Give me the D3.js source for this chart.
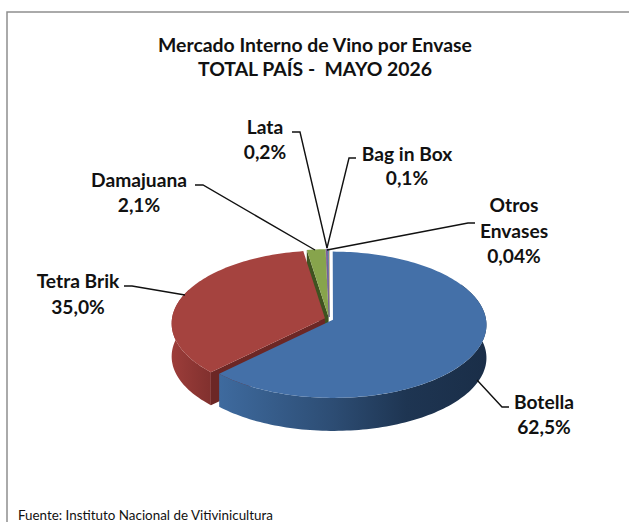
<!DOCTYPE html>
<html>
<head>
<meta charset="utf-8">
<script src="https://cdn.jsdelivr.net/npm/d3@7"></script>
<style>
  html, body { margin: 0; padding: 0; background: #fff; overflow: hidden; }
  svg { display: block; }
  text { font-family: Lato, "Open Sans", sans-serif; fill: #111; white-space: pre; }
</style>
</head>
<body>
<svg width="629" height="522"></svg>
<script>
// data, clockwise from 12 o'clock
var categories = ["Botella", "Tetra Brik", "Damajuana", "Lata", "Bag in Box", "Otros Envases"];
var values = [62.5, 35.0, 2.1, 0.2, 0.1, 0.04];
var valueLabels = ["62,5%", "35,0%", "2,1%", "0,2%", "0,1%", "0,04%"];
var titleLines = ["Mercado Interno de Vino por Envase", "TOTAL PAÍS -  MAYO 2026"];
var source = "Fuente: Instituto Nacional de Vitivinicultura";

var svg = d3.select("svg");

var colors = d3.scaleOrdinal()
    .domain(categories)
    .range(["#4470a8", "#a5433f", "#87a44c", "#7a5d9c", "#4f9db5", "#e08a3c"]);

// where each label and its leader sit on the page
var layout = {
  "Botella":       {x: 544, y: 409, lh: 25,   lead: [[509, 407], [502, 407], [477, 380]]},
  "Tetra Brik":    {x: 78,  y: 288, lh: 26,   lead: [[124, 286], [132, 286], [185, 295]]},
  "Damajuana":     {x: 139, y: 187, lh: 25,   lead: [[195, 185], [203, 185], [315, 250]]},
  "Lata":          {x: 265, y: 134, lh: 25,   lead: [[292, 132], [300, 132], [327, 248]]},
  "Bag in Box":    {x: 407, y: 161, lh: 24,   lead: [[356, 158], [349, 158], [327, 248]]},
  "Otros Envases": {x: 514, y: 212, lh: 25.5, lead: [[475, 223], [468, 223], [327, 250]]}
};

// frame
svg.append("path")
    .attr("d", "M7,522V12H629")
    .attr("fill", "none")
    .attr("stroke", "#8e8e8e")
    .attr("stroke-width", 1.5);

// title
svg.append("g").selectAll("text")
    .data(titleLines)
    .enter().append("text")
    .attr("x", 315)
    .attr("y", function(d, i) { return 52 + i * 24; })
    .attr("text-anchor", "middle")
    .attr("font-size", 19.4)
    .attr("font-weight", 700)
    .text(function(d) { return d; });

svg.append("text")
    .attr("x", 18)
    .attr("y", 520)
    .attr("font-size", 13.4)
    .text(source);

// pie in perspective
var cx = 329, cy = 319, rx = 153, ry = 72.7, persp = 0.068, depth = 33, explode = 0.028;

var arcs = d3.pie().sort(null).value(function(d) { return d; })(values);
arcs.forEach(function(d, i) { d.name = categories[i]; });

function project(px, pz, drop) {
  var s = 1 / (1 + persp * pz);
  return [cx + rx * px * s, cy - ry * pz * s + (drop || 0)];
}

function rimPoint(d, a, drop) {
  var mid = (d.startAngle + d.endAngle) / 2;
  return project(Math.sin(a) + explode * Math.sin(mid), Math.cos(a) + explode * Math.cos(mid), drop);
}

function hub(d, drop) {
  var mid = (d.startAngle + d.endAngle) / 2;
  return project(explode * Math.sin(mid), explode * Math.cos(mid), drop);
}

function rim(d, from, to, drop) {
  var n = Math.max(2, Math.ceil(Math.abs(to - from) * 40));
  return d3.range(n + 1).map(function(i) {
    return rimPoint(d, from + (to - from) * i / n, drop);
  });
}

var line = d3.line();

function topFace(d) {
  return line([hub(d)].concat(rim(d, d.startAngle, d.endAngle))) + "Z";
}

function outerWall(d, from, to) {
  return line(rim(d, from, to).concat(rim(d, to, from, depth))) + "Z";
}

function cutWall(d, a) {
  return line([hub(d), rimPoint(d, a), rimPoint(d, a, depth), hub(d, depth)]) + "Z";
}

// side shading
var defs = svg.append("defs");

function sideGradient(id, x1, x2, stops) {
  var g = defs.append("linearGradient")
      .attr("id", id)
      .attr("gradientUnits", "userSpaceOnUse")
      .attr("x1", x1).attr("x2", x2).attr("y1", 0).attr("y2", 0);
  stops.forEach(function(s) {
    g.append("stop").attr("offset", s[0]).attr("stop-color", s[1]);
  });
}
sideGradient("blueSide", 220, 486, [[0, "#3e6a9e"], [0.42, "#2d4d74"], [0.7, "#1e3552"], [1, "#1a2e48"]]);
sideGradient("redSide", 172, 215, [[0, "#9c3d3a"], [1, "#7e2f2d"]]);

var pieG = svg.append("g");
var blue = arcs[0], red = arcs[1], green = arcs[2];

// back to front: small slices, then red, then blue
pieG.append("path").attr("d", cutWall(green, green.startAngle)).attr("fill", "#3f5320");
arcs.slice(2).reverse().forEach(function(d) {
  pieG.append("path")
      .attr("d", topFace(d))
      .attr("fill", colors(d.name))
      .attr("stroke", colors(d.name))
      .attr("stroke-width", d === green ? 0 : 0.8);
});

pieG.append("path").attr("d", outerWall(red, red.startAngle, red.startAngle + 1.2)).attr("fill", "url(#redSide)");
pieG.append("path").attr("d", cutWall(red, red.startAngle)).attr("fill", "#6c2725");
pieG.append("path").attr("d", topFace(red)).attr("fill", colors(red.name));

pieG.append("path").attr("d", outerWall(blue, Math.PI / 3, blue.endAngle)).attr("fill", "url(#blueSide)");
pieG.append("path").attr("d", topFace(blue)).attr("fill", colors(blue.name));

// leaders
svg.append("g").selectAll("path")
    .data(categories)
    .enter().append("path")
    .attr("d", function(d) { return line(layout[d].lead); })
    .attr("fill", "none")
    .attr("stroke", "#111")
    .attr("stroke-width", 1.4);

// labels
var labels = svg.append("g").selectAll("text")
    .data(categories)
    .enter().append("text")
    .attr("text-anchor", "middle")
    .attr("font-size", 19.2)
    .attr("font-weight", 700);

labels.each(function(d, i) {
  var rows = (d === "Otros Envases" ? d.split(" ") : [d]).concat(valueLabels[i]);
  d3.select(this).selectAll("tspan")
      .data(rows)
      .enter().append("tspan")
      .attr("x", layout[d].x)
      .attr("y", function(r, j) { return layout[d].y + j * layout[d].lh; })
      .text(function(r) { return r; });
});
</script>
</body>
</html>
